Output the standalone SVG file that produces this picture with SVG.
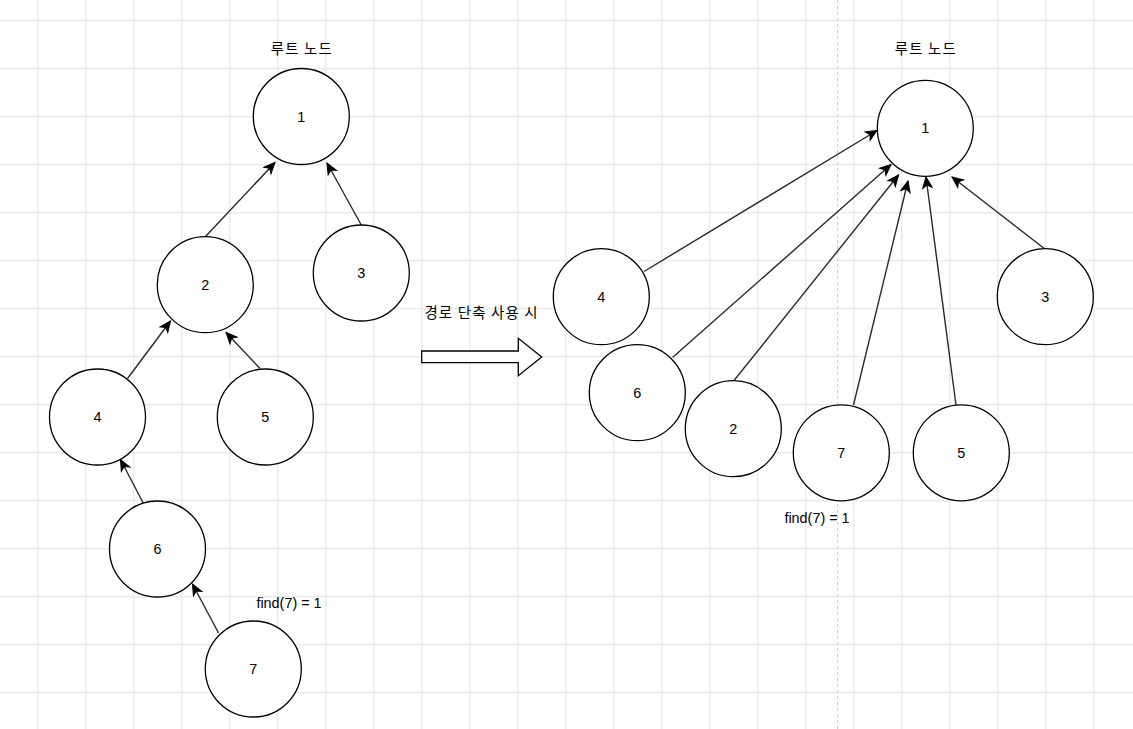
<svg xmlns="http://www.w3.org/2000/svg" width="1133" height="729" viewBox="0 0 1133 729">
<style>
.node circle{fill:#fff;stroke:#000;stroke-width:1.3}
.lbl{font-family:"Liberation Sans",Arial,sans-serif;font-size:14.4px;fill:#000;text-anchor:middle}
.ko{font-family:"Noto Sans CJK KR","Noto Sans",sans-serif;font-size:14.4px;fill:#000;text-anchor:middle;letter-spacing:1.2px}
.edge{stroke:#2a2a2a;stroke-width:1.4;fill:none;marker-end:url(#arr)}
</style>
<defs>
<pattern id="grid" patternUnits="userSpaceOnUse" x="37.3" y="20.3" width="48" height="48">
<path d="M0.5 0V48M0 0.5H48" stroke="#e2e2e2" stroke-width="1" fill="none"/>
</pattern>
<marker id="arr" markerUnits="userSpaceOnUse" viewBox="-12 -6 14 12" refX="0" refY="0" markerWidth="14" markerHeight="12" orient="auto" overflow="visible">
<path d="M-11 -4.8L0 0L-11 4.8L-8 0Z" fill="#000" stroke="#000" stroke-width="1"/>
</marker>
</defs>
<rect width="1133" height="729" fill="#fff"/>
<rect width="1133" height="729" fill="url(#grid)"/>
<line x1="837.7" y1="0" x2="837.7" y2="729" stroke="#c4c4c4" stroke-width="1" stroke-dasharray="3 3"/>

<g id="connectors">
<line class="edge" x1="205.3" y1="236.7" x2="275" y2="162.5"/>
<line class="edge" x1="361.3" y1="225" x2="327" y2="163"/>
<line class="edge" x1="127.5" y1="378.5" x2="170.5" y2="321"/>
<line class="edge" x1="260" y1="368.5" x2="226" y2="332.5"/>
<line class="edge" x1="144" y1="504.5" x2="120.5" y2="459.5"/>
<line class="edge" x1="218.5" y1="633" x2="192.5" y2="584"/>
<line class="edge" x1="644" y1="271.5" x2="877" y2="130.5"/>
<line class="edge" x1="672.5" y1="357.5" x2="891" y2="164.5"/>
<line class="edge" x1="734" y1="380.5" x2="898.5" y2="175"/>
<line class="edge" x1="853.5" y1="405" x2="908" y2="181"/>
<line class="edge" x1="956" y1="405" x2="926" y2="177"/>
<line class="edge" x1="1045" y1="249" x2="952" y2="177"/>
</g>

<g id="L1" class="node"><circle cx="301.3" cy="116.5" r="48"/><text class="lbl" x="301.3" y="121.5">1</text></g>
<g id="L2" class="node"><circle cx="205.3" cy="284.7" r="48"/><text class="lbl" x="205.3" y="289.7">2</text></g>
<g id="L3" class="node"><circle cx="361.3" cy="273" r="48"/><text class="lbl" x="361.3" y="278">3</text></g>
<g id="L4" class="node"><circle cx="97.5" cy="417" r="48"/><text class="lbl" x="97.5" y="422">4</text></g>
<g id="L5" class="node"><circle cx="265.3" cy="417" r="48"/><text class="lbl" x="265.3" y="422">5</text></g>
<g id="L6" class="node"><circle cx="157.5" cy="549" r="48"/><text class="lbl" x="157.5" y="554">6</text></g>
<g id="L7" class="node"><circle cx="253.3" cy="669" r="48"/><text class="lbl" x="253.3" y="674">7</text></g>

<g id="R1" class="node"><circle cx="925.3" cy="128.3" r="48"/><text class="lbl" x="925.3" y="133.3">1</text></g>
<g id="R4" class="node"><circle cx="601.3" cy="296.7" r="48"/><text class="lbl" x="601.3" y="301.7">4</text></g>
<g id="R6" class="node"><circle cx="637.3" cy="392.7" r="48"/><text class="lbl" x="637.3" y="397.7">6</text></g>
<g id="R2" class="node"><circle cx="733.3" cy="428.7" r="48"/><text class="lbl" x="733.3" y="433.7">2</text></g>
<g id="R7" class="node"><circle cx="841.3" cy="452.8" r="48"/><text class="lbl" x="841.3" y="457.8">7</text></g>
<g id="R5" class="node"><circle cx="961.3" cy="452.8" r="48"/><text class="lbl" x="961.3" y="457.8">5</text></g>
<g id="R3" class="node"><circle cx="1045.3" cy="296.7" r="48"/><text class="lbl" x="1045.3" y="301.7">3</text></g>

<g id="labels">
<text class="ko" x="301.9" y="54">루트 노드</text>
<text class="ko" x="925.9" y="54">루트 노드</text>
<text class="ko" x="481.6" y="318">경로 단축 사용 시</text>
<text class="lbl" x="289" y="607.5">find(7) = 1</text>
<text class="lbl" x="817" y="523">find(7) = 1</text>
</g>

<g id="bigArrow">
<polygon points="421.7,351 518.3,351 518.3,338.3 541.7,357 518.3,375.7 518.3,362.7 421.7,362.7" fill="#fff" stroke="#000" stroke-width="1.3"/>
</g>
</svg>
